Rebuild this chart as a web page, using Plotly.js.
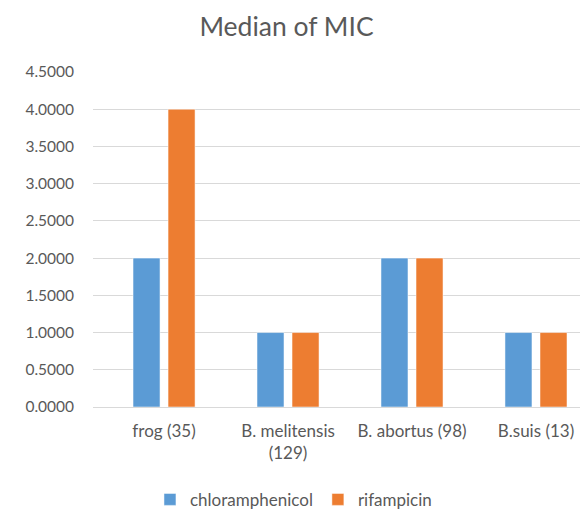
<!DOCTYPE html>
<html><head><meta charset="utf-8">
<script src="https://cdn.plot.ly/plotly-3.0.1.min.js"></script>
<style>html,body{margin:0;padding:0;overflow:hidden;background:#fff}</style>
</head><body><div id="chart" style="width:580px;height:509px"></div>
<script>
const categories = ["frog (35)", "B. melitensis<br>(129)", "B. abortus (98)", "B.suis (13)"];
const chloramphenicol = [2, 1, 2, 1];
const rifampicin = [4, 1, 2, 1];
const tickVals = [0, 0.5, 1, 1.5, 2, 2.5, 3, 3.5, 4, 4.5];
const tickText = tickVals.map(v => v.toFixed(4));

const font = "Lato, 'Open Sans', sans-serif";
const data = [
  {type: 'bar', name: 'chloramphenicol', x: categories, y: chloramphenicol,
   marker: {color: '#5B9BD5', line: {color: 'rgba(255,255,255,0.5)', width: 1}}},
  {type: 'bar', name: 'rifampicin', x: categories, y: rifampicin,
   marker: {color: '#ED7D31', line: {color: 'rgba(255,255,255,0.5)', width: 1}}}
];
const layout = {
  width: 580, height: 509,
  margin: {l: 93, r: 0, t: 72, b: 102, pad: 0},
  paper_bgcolor: '#fff', plot_bgcolor: '#fff',
  font: {family: font, color: '#595959', size: 15},
  title: {text: 'Median of MIC', font: {family: font, size: 26.5, color: '#595959'},
          x: 0.494, xref: 'container', xanchor: 'center', y: 0.947, yref: 'container', yanchor: 'middle'},
  barmode: 'group', bargap: 0.435, bargroupgap: 0.229,
  showlegend: true,
  legend: {orientation: 'h', xref: 'container', yref: 'container', x: 0.506, xanchor: 'center',
           y: 0.018, yanchor: 'middle', font: {family: font, size: 17, color: '#595959'},
           itemwidth: 30, traceorder: 'normal'},
  xaxis: {type: 'category', range: [-0.573, 3.355], showgrid: false, zeroline: false,
          showline: false, ticks: '', tickfont: {family: font, size: 17, color: '#595959'},
          ticklabelstandoff: 12, fixedrange: true},
  yaxis: {range: [0, 4.5], tickvals: tickVals, ticktext: tickText, showgrid: true,
          gridcolor: '#d9d9d9', gridwidth: 1, zeroline: true, zerolinecolor: '#d9d9d9',
          zerolinewidth: 1, showline: false, ticks: '', ticklabelstandoff: 18,
          tickfont: {family: font, size: 15.5, color: '#595959'}, fixedrange: true}
};
Plotly.newPlot('chart', data, layout, {displayModeBar: false, staticPlot: true});
</script></body></html>
